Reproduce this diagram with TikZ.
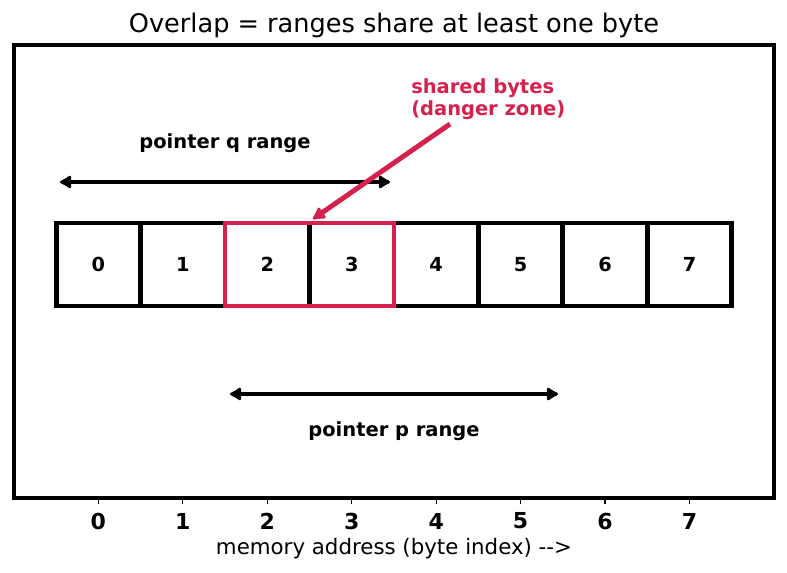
\documentclass[tikz,border=0pt]{standalone}
\usepackage{fontspec}
\setmainfont{DejaVu Sans}
\usetikzlibrary{arrows.meta}
\definecolor{danger}{HTML}{D6204E}
\begin{document}
\begin{tikzpicture}[x=0.75pt,y=-0.75pt,
  cellbox/.style={draw,line width=3.5pt,outer sep=0pt,minimum width=63.33pt,minimum height=62.25pt,inner sep=0pt,font=\bfseries\fontsize{14.5}{17}\selectfont},
  rangearrow/.style={line width=3.7pt,{Latex[round,length=10pt,width=12pt]}-{Latex[round,length=10pt,width=12pt]}},
  lbl/.style={font=\bfseries\fontsize{14.6}{16.5}\selectfont},
  ticklbl/.style={font=\bfseries\fontsize{16.5}{19}\selectfont},
  tickmark/.style={line width=0.9pt}]
\useasboundingbox (0,0) rectangle (787,573);
% title
\node[font=\fontsize{19.2}{22}\selectfont] (title) at (394,25) {Overlap = ranges share at least one byte};
% frame
\draw[line width=3.5pt] (14,45) rectangle (774,498);
% cells
\foreach \i in {0,...,7}{
  \node[cellbox] (c\i) at ({98.4+84.44*\i},264.5) {\i};
}
\draw[danger,line width=3.5pt] (c2.south west) rectangle (c3.north east);
% pointer q
\coordinate (q1) at (60,182);
\coordinate (q2) at (390,182);
\draw[rangearrow] (q1) -- (q2);
\node[lbl] (qlab) at (225,143) {pointer q range};
% pointer p
\coordinate (p1) at (230,394);
\coordinate (p2) at (558,394);
\draw[rangearrow] (p1) -- (p2);
\node[lbl] (plab) at (394,431) {pointer p range};
% danger annotation
\node[lbl,text=danger,align=left,anchor=north west,inner sep=0pt] (dz) at (411,78) {shared bytes\\(danger zone)};
\coordinate (dstart) at (450,124);
\coordinate (dend) at (313,219);
\draw[danger,line width=3.7pt,-{Latex[round,length=11pt,width=12pt]}] (dstart) -- (dend);
% ticks
\foreach \i in {0,...,7}{
  \coordinate (t\i) at ({98.4+84.44*\i},498);
  \coordinate (tb\i) at ({98.4+84.44*\i},504);
  \draw[tickmark] (t\i) -- (tb\i);
  \node[ticklbl] (tl\i) at ({98.4+84.44*\i},521) {\i};
}
\node[font=\fontsize{16}{19}\selectfont] (xlab) at (394,549) {memory address (byte index) -{}->};
\end{tikzpicture}
\end{document}
